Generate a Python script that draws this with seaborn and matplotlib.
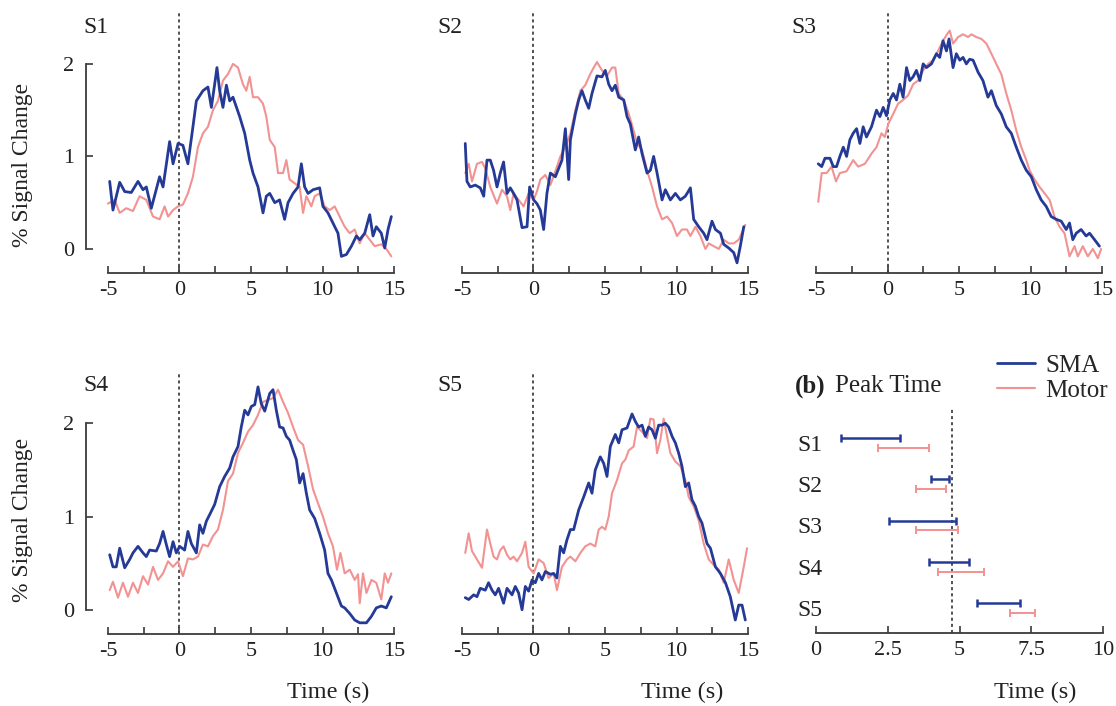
import numpy as np
import pandas as pd
import matplotlib
matplotlib.use("Agg")
import matplotlib.pyplot as plt
from matplotlib.lines import Line2D
import seaborn as sns

# ---------------------------------------------------------------- data
# Event-related % signal change (SMA and motor cortex), time in seconds
s1_sma_t = [-4.88, -4.65, -4.18, -3.83, -3.37, -2.90, -2.55, -2.32, -1.97, -1.39, -1.15, -0.69, -0.45, -0.10,
            0.24, 0.59, 0.94, 1.18, 1.64, 1.99, 2.23, 2.46, 2.62, 2.81, 3.04, 3.28, 3.51, 3.74, 4.21, 4.56,
            4.91, 5.14, 5.49, 5.84, 6.07, 6.31, 6.66, 7.00, 7.35, 7.59, 7.94, 8.29, 8.52, 8.75, 8.99, 9.34,
            9.80, 10.03, 10.38, 10.73, 11.08, 11.32, 11.67, 12.02, 12.37, 12.60, 12.95, 13.30, 13.53, 13.76,
            14.11, 14.35, 14.58, 14.81]
s1_sma_v = [0.73, 0.42, 0.72, 0.62, 0.61, 0.73, 0.64, 0.67, 0.44, 0.78, 0.67, 1.16, 0.92, 1.14,
            1.12, 0.92, 1.32, 1.60, 1.71, 1.75, 1.53, 1.78, 1.96, 1.71, 1.53, 1.77, 1.60, 1.64, 1.43, 1.25,
            0.96, 0.82, 0.67, 0.39, 0.57, 0.60, 0.50, 0.53, 0.32, 0.50, 0.60, 0.67, 0.92, 0.67, 0.60, 0.64,
            0.66, 0.46, 0.39, 0.28, 0.17, -0.08, -0.06, 0.03, 0.14, 0.10, 0.17, 0.37, 0.14, 0.24,
            0.17, 0.01, 0.21, 0.35]
s1_mot_t = [-5.00, -4.53, -4.18, -3.72, -3.25, -2.79, -2.32, -1.85, -1.39, -1.04, -0.80, -0.45, -0.10, 0.24,
            0.59, 0.94, 1.29, 1.64, 1.99, 2.34, 2.69, 3.04, 3.39, 3.74, 4.09, 4.44, 4.67, 4.91, 5.14, 5.49,
            5.84, 6.07, 6.31, 6.66, 6.89, 7.24, 7.47, 7.70, 8.05, 8.40, 8.64, 8.87, 9.22, 9.45, 9.80, 10.15,
            10.50, 10.85, 11.20, 11.55, 11.90, 12.25, 12.60, 12.95, 13.30, 13.65, 14.11, 14.46, 14.81]
s1_mot_v = [0.49, 0.53, 0.39, 0.44, 0.41, 0.57, 0.53, 0.35, 0.32, 0.46, 0.35, 0.42, 0.46, 0.48,
            0.60, 0.78, 1.10, 1.25, 1.32, 1.50, 1.60, 1.82, 1.89, 2.00, 1.96, 1.78, 1.71, 1.86, 1.64, 1.64,
            1.57, 1.43, 1.18, 1.10, 0.82, 0.82, 0.96, 0.75, 0.71, 0.67, 0.39, 0.57, 0.46, 0.57, 0.60, 0.46,
            0.42, 0.46, 0.35, 0.24, 0.17, 0.21, 0.06, 0.17, 0.10, 0.03, 0.05, 0.00, -0.08]

s2_sma_t = [-4.77, -4.65, -4.42, -4.07, -3.72, -3.48, -3.25, -3.02, -2.79, -2.55, -2.32, -2.09, -1.85, -1.62,
            -1.39, -1.15, -0.80, -0.45, -0.27, 0.01, 0.24, 0.48, 0.71, 0.94, 1.18, 1.53, 1.76, 1.99, 2.23,
            2.46, 2.58, 2.93, 3.16, 3.39, 3.62, 3.86, 4.09, 4.44, 4.79, 5.02, 5.26, 5.49, 5.72, 5.96, 6.31,
            6.54, 6.77, 7.12, 7.35, 7.59, 7.94, 8.17, 8.40, 8.64, 8.99, 9.22, 9.57, 9.92, 10.27, 10.62,
            10.97, 11.20, 11.55, 11.90, 12.13, 12.48, 12.72, 13.07, 13.30, 13.65, 14.00, 14.23, 14.46, 14.70]
s2_sma_v = [1.14, 0.73, 0.67, 0.69, 0.66, 0.57, 0.96, 0.96, 0.85, 0.67, 0.82, 0.94, 0.60, 0.66,
            0.60, 0.53, 0.23, 0.24, 0.67, 0.53, 0.49, 0.42, 0.21, 0.60, 0.82, 0.78, 0.87, 0.96, 1.30,
            0.75, 1.18, 1.46, 1.61, 1.71, 1.61, 1.52, 1.68, 1.87, 1.86, 1.93, 1.78, 1.71, 1.77, 1.64, 1.61,
            1.43, 1.35, 1.07, 1.21, 1.03, 0.82, 0.85, 1.00, 0.82, 0.53, 0.64, 0.53, 0.60, 0.53, 0.57,
            0.66, 0.32, 0.24, 0.17, 0.10, 0.30, 0.21, 0.17, 0.05, 0.01, -0.04, -0.15, 0.03, 0.24]
s2_mot_t = [-4.77, -4.53, -4.30, -3.95, -3.60, -3.37, -3.02, -2.55, -2.20, -1.85, -1.62, -1.39, -1.04, -0.69,
            -0.34, 0.01, 0.24, 0.48, 0.83, 1.18, 1.53, 1.88, 2.23, 2.58, 2.93, 3.28, 3.62, 3.97, 4.21, 4.44,
            4.79, 5.14, 5.49, 5.72, 5.96, 6.31, 6.66, 7.00, 7.24, 7.59, 7.94, 8.29, 8.64, 8.99, 9.34, 9.69,
            10.03, 10.38, 10.73, 10.97, 11.32, 11.67, 12.02, 12.25, 12.60, 12.95, 13.30, 13.65, 14.00, 14.35,
            14.81]
s2_mot_v = [0.82, 0.92, 0.73, 0.92, 0.94, 0.87, 0.67, 0.49, 0.64, 0.57, 0.42, 0.60, 0.53, 0.46,
            0.60, 0.53, 0.62, 0.75, 0.80, 0.69, 0.84, 1.00, 1.10, 1.25, 1.50, 1.71, 1.77, 1.89, 1.96, 2.02,
            1.93, 1.87, 1.96, 1.96, 1.68, 1.61, 1.46, 1.28, 1.14, 1.07, 0.85, 0.67, 0.46, 0.32, 0.35, 0.28,
            0.14, 0.21, 0.21, 0.14, 0.24, 0.14, 0.00, 0.06, 0.03, 0.00, 0.10, 0.06, 0.06, 0.10,
            0.26]

s3_sma_t = [-4.84, -4.60, -4.37, -4.02, -3.79, -3.56, -3.33, -3.09, -2.86, -2.63, -2.40, -2.16, -1.93, -1.70,
            -1.47, -1.12, -0.77, -0.53, -0.30, -0.07, 0.16, 0.40, 0.63, 0.86, 1.09, 1.33, 1.56, 1.79, 2.02,
            2.26, 2.49, 2.72, 3.07, 3.42, 3.65, 3.88, 4.12, 4.30, 4.58, 4.81, 5.05, 5.28, 5.51, 5.74, 5.98,
            6.33, 6.67, 7.02, 7.26, 7.60, 7.95, 8.30, 8.65, 9.00, 9.35, 9.70, 10.05, 10.40, 10.74, 11.09,
            11.44, 11.79, 12.14, 12.49, 12.72, 12.95, 13.19, 13.53, 13.88, 14.12, 14.47, 14.81]
s3_sma_v = [0.92, 0.89, 0.98, 0.98, 0.89, 0.89, 1.00, 1.10, 1.00, 1.18, 1.25, 1.30, 1.14, 1.32,
            1.21, 1.32, 1.50, 1.43, 1.53, 1.44, 1.61, 1.68, 1.61, 1.78, 1.64, 1.96, 1.82, 1.86, 1.93,
            1.82, 2.00, 1.96, 2.00, 2.11, 2.07, 2.25, 2.14, 2.27, 1.96, 2.11, 2.04, 2.07, 2.00, 2.05, 2.04,
            1.91, 1.82, 1.64, 1.71, 1.55, 1.46, 1.32, 1.25, 1.10, 0.96, 0.85, 0.78, 0.64, 0.53, 0.46,
            0.35, 0.32, 0.30, 0.21, 0.28, 0.10, 0.17, 0.21, 0.14, 0.17, 0.10, 0.03]
s3_mot_t = [-4.84, -4.60, -4.26, -3.91, -3.60, -3.33, -2.86, -2.40, -2.05, -1.58, -1.12, -0.77, -0.42, -0.19,
            0.05, 0.40, 0.74, 1.09, 1.44, 1.79, 2.14, 2.49, 2.84, 3.19, 3.53, 3.88, 4.16, 4.35, 4.58, 4.93,
            5.28, 5.63, 5.86, 6.21, 6.56, 6.91, 7.26, 7.60, 7.95, 8.30, 8.65, 9.00, 9.35, 9.70, 9.93, 10.28,
            10.63, 10.98, 11.33, 11.67, 12.02, 12.37, 12.72, 13.07, 13.30, 13.65, 14.00, 14.35, 14.70, 14.93]
s3_mot_v = [0.51, 0.82, 0.82, 0.89, 0.73, 0.82, 0.84, 0.96, 0.89, 0.92, 1.03, 1.10, 1.25, 1.21,
            1.35, 1.46, 1.57, 1.61, 1.66, 1.78, 1.82, 1.93, 2.00, 2.04, 2.14, 2.25, 2.32, 2.36, 2.22, 2.29,
            2.32, 2.29, 2.32, 2.29, 2.27, 2.22, 2.11, 2.00, 1.89, 1.68, 1.50, 1.28, 1.10, 0.96, 0.85, 0.75,
            0.67, 0.60, 0.53, 0.35, 0.24, 0.17, -0.08, 0.03, -0.08, 0.03, -0.08, 0.00, -0.10, 0.00]

s4_sma_t = [-4.88, -4.65, -4.42, -4.18, -3.83, -3.48, -3.25, -2.90, -2.55, -2.32, -2.09, -1.62, -1.39, -1.15,
            -0.92, -0.69, -0.45, -0.22, 0.01, 0.36, 0.59, 0.83, 1.18, 1.41, 1.64, 1.88, 2.11, 2.46, 2.81,
            3.16, 3.51, 3.74, 4.09, 4.32, 4.56, 4.79, 5.02, 5.26, 5.49, 5.72, 5.96, 6.31, 6.54, 6.77, 7.00,
            7.24, 7.47, 7.70, 7.94, 8.17, 8.40, 8.64, 8.87, 9.10, 9.45, 9.80, 10.15, 10.38, 10.62, 10.97,
            11.32, 11.55, 11.90, 12.25, 12.60, 13.07, 13.42, 13.76, 14.11, 14.46, 14.81]
s4_sma_v = [0.59, 0.46, 0.46, 0.66, 0.45, 0.54, 0.61, 0.68, 0.61, 0.57, 0.64, 0.63, 0.71, 0.84,
            0.70, 0.57, 0.73, 0.61, 0.68, 0.64, 0.84, 0.71, 0.61, 0.91, 0.82, 0.95, 1.02, 1.13, 1.32,
            1.43, 1.52, 1.64, 1.75, 1.96, 2.14, 2.09, 2.18, 2.20, 2.39, 2.21, 2.13, 2.32, 2.36, 2.14, 1.96,
            1.95, 1.86, 1.82, 1.71, 1.61, 1.36, 1.46, 1.25, 1.07, 0.98, 0.82, 0.64, 0.39, 0.32, 0.18,
            0.04, 0.02, -0.04, -0.11, -0.14, -0.14, -0.07, 0.02, 0.04, 0.02, 0.14]
s4_mot_t = [-4.88, -4.65, -4.30, -3.95, -3.60, -3.25, -2.90, -2.55, -2.20, -1.85, -1.50, -1.15, -0.80, -0.45,
            -0.10, 0.24, 0.59, 0.94, 1.29, 1.64, 1.99, 2.34, 2.69, 3.04, 3.39, 3.74, 4.09, 4.44, 4.79, 5.14,
            5.49, 5.84, 6.19, 6.54, 6.89, 7.24, 7.59, 7.94, 8.29, 8.64, 8.99, 9.34, 9.69, 10.03, 10.38,
            10.73, 11.01, 11.25, 11.55, 11.90, 12.25, 12.48, 12.60, 12.83, 13.07, 13.42, 13.76, 14.11, 14.35,
            14.58, 14.81]
s4_mot_v = [0.21, 0.30, 0.13, 0.29, 0.14, 0.29, 0.18, 0.36, 0.27, 0.46, 0.32, 0.39, 0.52, 0.46,
            0.52, 0.36, 0.55, 0.54, 0.57, 0.70, 0.68, 0.79, 0.86, 1.07, 1.38, 1.46, 1.68, 1.79, 1.91, 1.98,
            2.09, 2.23, 2.25, 2.27, 2.36, 2.23, 2.11, 1.96, 1.82, 1.77, 1.54, 1.29, 1.14, 1.00, 0.82,
            0.68, 0.43, 0.61, 0.39, 0.43, 0.32, 0.38, 0.07, 0.39, 0.18, 0.32, 0.29, 0.11, 0.39,
            0.29, 0.39]

s5_sma_t = [-4.77, -4.53, -4.18, -3.95, -3.72, -3.37, -3.14, -2.90, -2.67, -2.44, -2.09, -1.85, -1.50, -1.27,
            -1.04, -0.80, -0.57, -0.34, -0.10, 0.13, 0.36, 0.59, 0.83, 1.18, 1.41, 1.64, 1.88, 2.11, 2.34,
            2.58, 2.81, 3.16, 3.51, 3.86, 4.09, 4.32, 4.67, 4.91, 5.14, 5.37, 5.72, 5.96, 6.19, 6.54, 6.89,
            7.12, 7.35, 7.59, 7.82, 8.05, 8.29, 8.52, 8.75, 8.99, 9.22, 9.45, 9.69, 9.92, 10.15, 10.38,
            10.62, 10.85, 11.08, 11.32, 11.55, 11.78, 12.13, 12.37, 12.72, 13.07, 13.42, 13.76, 14.11, 14.35,
            14.58, 14.81]
s5_sma_v = [0.13, 0.11, 0.16, 0.14, 0.23, 0.21, 0.29, 0.21, 0.16, 0.23, 0.07, 0.23, 0.16, 0.25,
            0.18, 0.00, 0.25, 0.20, 0.32, 0.29, 0.39, 0.32, 0.41, 0.38, 0.39, 0.34, 0.68, 0.61, 0.75,
            0.86, 0.86, 1.07, 1.21, 1.36, 1.25, 1.50, 1.64, 1.57, 1.43, 1.75, 1.88, 1.79, 1.93, 1.95, 2.10,
            2.02, 1.96, 1.98, 1.86, 1.96, 1.93, 1.84, 1.98, 1.98, 2.00, 1.96, 1.86, 1.79, 1.68, 1.54,
            1.32, 1.36, 1.18, 1.11, 1.00, 0.93, 0.71, 0.66, 0.46, 0.39, 0.29, 0.14, -0.11, 0.05,
            0.05, -0.11]
s5_mot_t = [-4.77, -4.53, -4.30, -3.95, -3.60, -3.25, -3.02, -2.79, -2.55, -2.32, -2.09, -1.85, -1.62, -1.39,
            -1.15, -0.80, -0.57, -0.34, 0.01, 0.36, 0.71, 1.06, 1.41, 1.64, 1.99, 2.34, 2.58, 2.93, 3.28,
            3.62, 3.97, 4.32, 4.56, 4.79, 5.02, 5.26, 5.49, 5.84, 6.19, 6.42, 6.66, 7.00, 7.24, 7.59, 7.94,
            8.17, 8.40, 8.64, 8.87, 9.10, 9.34, 9.57, 9.92, 10.27, 10.62, 10.85, 11.20, 11.55, 11.90, 12.25,
            12.60, 12.95, 13.30, 13.65, 14.00, 14.35, 14.70, 14.93]
s5_mot_v = [0.61, 0.82, 0.63, 0.54, 0.45, 0.86, 0.71, 0.57, 0.54, 0.64, 0.68, 0.59, 0.54, 0.57,
            0.52, 0.61, 0.73, 0.46, 0.39, 0.54, 0.50, 0.34, 0.39, 0.21, 0.46, 0.54, 0.57, 0.52, 0.61,
            0.68, 0.71, 0.68, 0.86, 0.89, 0.86, 1.00, 1.25, 1.39, 1.57, 1.61, 1.71, 1.75, 1.96, 1.91, 1.84,
            2.05, 2.04, 1.68, 1.82, 2.05, 1.86, 1.68, 1.59, 1.54, 1.39, 1.21, 1.11, 0.96, 0.71, 0.54,
            0.48, 0.43, 0.29, 0.54, 0.32, 0.18, 0.46, 0.66]

subjects = ["S1", "S2", "S3", "S4", "S5"]
sma_series = [(s1_sma_t, s1_sma_v), (s2_sma_t, s2_sma_v), (s3_sma_t, s3_sma_v),
              (s4_sma_t, s4_sma_v), (s5_sma_t, s5_sma_v)]
mot_series = [(s1_mot_t, s1_mot_v), (s2_mot_t, s2_mot_v), (s3_mot_t, s3_mot_v),
              (s4_mot_t, s4_mot_v), (s5_mot_t, s5_mot_v)]

# Peak-time intervals (s) per subject
sma_peak_lo = [0.87, 4.00, 2.55, 3.94, 5.60]
sma_peak_hi = [2.93, 4.64, 4.87, 5.33, 7.11]
mot_peak_lo = [2.15, 3.48, 3.48, 4.24, 6.76]
mot_peak_hi = [3.95, 4.52, 4.93, 5.85, 7.63]
mean_peak = 4.75

# ---------------------------------------------------------------- style
sns.set_theme(style="ticks")
plt.rcParams["font.family"] = ["Liberation Serif", "DejaVu Serif"]

SMA_COLOR = "#243a96"
MOT_COLOR = "#f29292"
INK = "#222222"
AX_COLOR = "#3a3a3a"

W, H = 1116, 706
fig = plt.figure(figsize=(W / 100, H / 100), dpi=100)


def px_axes(left, top, right, bottom):
    return fig.add_axes([left / W, 1 - bottom / H, (right - left) / W, (bottom - top) / H])


def fx(x):
    return x / W


def fy(y):
    return 1 - y / H


panel_boxes = [
    (105.1, 13, 396.9, 273),
    (459.1, 13, 750.9, 273),
    (813.1, 13, 1105.0, 273),
    (105.1, 372, 396.9, 634),
    (459.1, 372, 750.9, 634),
]

for i, subj in enumerate(subjects):
    ax = px_axes(*panel_boxes[i])
    t, v = sma_series[i]
    tm, vm = mot_series[i]
    df = pd.DataFrame({"t": tm + t, "v": vm + v,
                       "region": ["Motor"] * len(tm) + ["SMA"] * len(t)})
    sns.lineplot(data=df[df.region == "Motor"], x="t", y="v", ax=ax, color=MOT_COLOR,
                 lw=1.5, estimator=None, sort=True, legend=False)
    sns.lineplot(data=df[df.region == "SMA"], x="t", y="v", ax=ax, color=SMA_COLOR,
                 lw=2.0, estimator=None, sort=True, legend=False)
    ax.axvline(0, color=INK, lw=1.1, ls=(0, (2, 2)), zorder=0)

    ax.set_xlim(-5.2, 15.2)
    ax.set_ylim(-0.26, 2.55)
    ax.set_xlabel("")
    ax.set_ylabel("")
    for s in ("top", "right"):
        ax.spines[s].set_visible(False)
    ax.spines["bottom"].set_bounds(-5, 15)
    ax.spines["bottom"].set_color(AX_COLOR)
    ax.spines["bottom"].set_linewidth(1.3)
    ax.set_xticks([-5, 0, 5, 10, 15])
    ax.set_xticklabels(["-5", "0", "5", "10", "15"])
    ax.set_xticks([-2.5, 2.5, 7.5, 12.5], minor=True)
    ax.tick_params(axis="x", which="both", direction="in", length=5, width=1.2,
                   color=AX_COLOR, labelsize=16, labelcolor=INK, pad=6)

    if i in (0, 3):
        ax.spines["left"].set_bounds(0, 2)
        ax.spines["left"].set_position(("outward", 14))
        ax.spines["left"].set_color(AX_COLOR)
        ax.spines["left"].set_linewidth(1.3)
        ax.set_yticks([0, 1, 2])
        ax.set_yticklabels(["0", "1", "2"])
        ax.tick_params(axis="y", direction="in", length=5, width=1.2, color=AX_COLOR,
                       labelsize=16, labelcolor=INK, pad=8)
        fig.text(fx(23), fy(165 if i == 0 else 520), "% Signal Change", rotation=90,
                 ha="center", va="center", fontsize=17, color=INK)
    else:
        ax.spines["left"].set_visible(False)
        ax.set_yticks([])

    ax.text(-0.075, 0.946 if i < 3 else 0.95, subj, transform=ax.transAxes,
            ha="left", va="center", fontsize=17, color=INK)

    if i >= 3:
        fig.text(fx(328 if i == 3 else 682), fy(692), "Time (s)", ha="center", va="center",
                 fontsize=17.5, color=INK)

# ---------------------------------------------------------------- peak time panel
axp = px_axes(810.3, 408, 1108.8, 633)
rows = np.arange(len(subjects))
off = 0.12
sma_lo = np.array(sma_peak_lo)
sma_hi = np.array(sma_peak_hi)
mot_lo = np.array(mot_peak_lo)
mot_hi = np.array(mot_peak_hi)
axp.errorbar((sma_lo + sma_hi) / 2, rows - off, xerr=(sma_hi - sma_lo) / 2, fmt="none",
             ecolor=SMA_COLOR, elinewidth=1.8, capsize=3, capthick=1.8)
axp.errorbar((mot_lo + mot_hi) / 2, rows + off, xerr=(mot_hi - mot_lo) / 2, fmt="none",
             ecolor=MOT_COLOR, elinewidth=1.4, capsize=3, capthick=1.4)
axp.axvline(mean_peak, color=INK, lw=1.1, ls=(0, (2, 2)), zorder=0)
axp.set_xlim(-0.2, 10.2)
axp.set_ylim(4.61, -0.85)
for s in ("top", "right", "left"):
    axp.spines[s].set_visible(False)
axp.spines["bottom"].set_bounds(0, 10)
axp.spines["bottom"].set_color(AX_COLOR)
axp.spines["bottom"].set_linewidth(1.3)
axp.set_xticks([0, 2.5, 5, 7.5, 10])
axp.set_xticklabels(["0", "2.5", "5", "7.5", "10"])
axp.tick_params(axis="x", direction="in", length=5, width=1.2, color=AX_COLOR,
                labelsize=16, labelcolor=INK, pad=6)
axp.set_yticks(rows)
axp.set_yticklabels(subjects)
axp.tick_params(axis="y", length=0, labelsize=17, labelcolor=INK, pad=-8.6)
fig.text(fx(1035), fy(692), "Time (s)", ha="center", va="center", fontsize=17.5, color=INK)

fig.text(fx(795), fy(386), "(b)", ha="left", va="center", fontsize=18, fontweight="bold", color=INK)
fig.text(fx(835), fy(386), "Peak Time", ha="left", va="center", fontsize=18, color=INK)

handles = [Line2D([], [], color=SMA_COLOR, lw=2.0), Line2D([], [], color=MOT_COLOR, lw=1.5)]
fig.legend(handles, ["SMA", "Motor"], loc="upper left", bbox_to_anchor=(fx(997), fy(354)),
           frameon=False, fontsize=18, handlelength=1.5, handletextpad=0.42, labelspacing=0.12,
           borderaxespad=0, borderpad=0)

fig.savefig("out.png", dpi=100)
